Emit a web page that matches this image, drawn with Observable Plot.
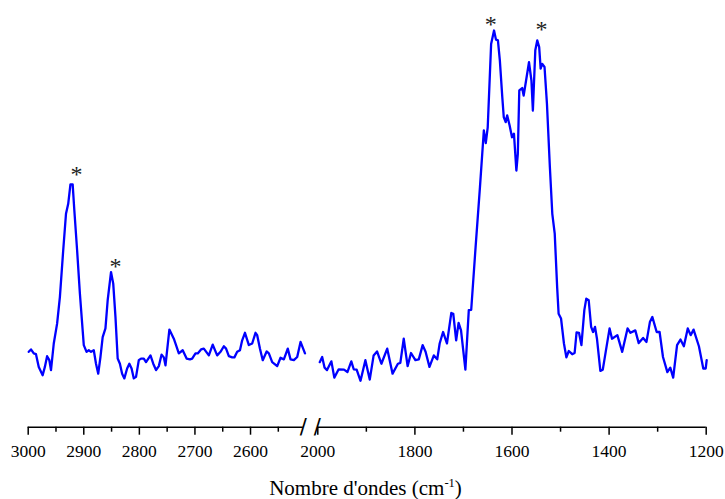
<!DOCTYPE html>
<html>
<head>
<meta charset="utf-8">
<script src="https://cdn.jsdelivr.net/npm/d3@7"></script>
<script src="https://cdn.jsdelivr.net/npm/@observablehq/plot@0.6"></script>
<style>
  html, body { margin: 0; padding: 0; background: #fff; }
  svg { display: block; }
  svg text.serif-t, svg .serif-t text { font-family: 'Liberation Serif', 'Times New Roman', Times, serif !important; }
</style>
</head>
<body>
<div id="chart"></div>
<script>
// ---- data: wavenumber (cm-1) and absorbance (arbitrary units) ----
const leftWn = [2999,2995,2990,2986,2981,2974,2970,2966,2962,2959,2954,2948,2943,2937,2932,2928,2924,2920,2917,2912,2907,2902,2900,2895,2891,2887,2882,2878,2874,2870,2866,2861,2857,2851,2847,2843,2839,2835,2831,2827,2822,2818,2814,2810,2806,2801,2797,2792,2788,2780,2775,2770,2765,2760,2756,2753,2746,2738,2734,2729,2722,2715,2709,2705,2699,2695,2689,2684,2675,2668,2660,2654,2648,2644,2639,2633,2629,2624,2619,2615,2610,2603,2597,2591,2588,2583,2578,2571,2567,2561,2552,2546,2540,2533,2528,2522,2516,2510,2502];
const leftAbs = [19.0,19.6,18.6,18.4,15.2,13.1,15.2,17.9,16.9,14.4,21.1,26.1,32.8,44.6,53.8,56.3,61.2,61.2,54.7,44.6,33.7,24.4,20.7,19.0,19.4,19.0,19.4,16.0,13.5,17.7,22.7,24.9,32.0,39.1,36.2,27.8,17.3,16.0,13.5,12.3,14.8,16.0,14.8,12.3,12.7,16.9,17.3,17.3,16.4,18.1,16.0,14.4,15.4,18.3,17.6,15.6,24.6,22.3,20.7,18.6,19.4,17.3,17.1,17.3,18.6,18.6,19.6,19.8,18.1,20.8,18.1,19.0,20.4,19.8,17.9,17.6,17.6,19.0,19.4,21.9,23.8,20.7,21.1,23.8,23.2,19.8,16.9,19.1,18.6,16.4,15.4,17.5,17.1,19.8,17.1,16.9,17.7,21.5,18.6];

const rightWn = [1996,1991,1986,1981,1972,1966,1957,1946,1939,1931,1926,1920,1912,1902,1893,1885,1878,1869,1857,1846,1835,1830,1823,1815,1808,1799,1792,1784,1778,1770,1761,1754,1749,1742,1734,1725,1721,1715,1710,1705,1696,1689,1684,1675,1666,1658,1654,1650,1643,1637,1633,1629,1625,1620,1617,1613,1610,1605,1600,1596,1591,1588,1585,1579,1576,1571,1565,1560,1557,1552,1548,1544,1541,1538,1533,1528,1522,1517,1512,1507,1504,1499,1493,1488,1483,1476,1471,1467,1462,1457,1451,1447,1442,1437,1433,1429,1425,1418,1413,1407,1399,1394,1383,1373,1362,1356,1346,1339,1330,1323,1316,1311,1302,1296,1289,1280,1274,1268,1260,1253,1246,1238,1232,1226,1215,1206,1201,1199];
const rightAbs = [16.4,17.7,15.0,14.4,16.6,12.5,14.6,14.5,13.9,16.6,14.6,14.5,11.7,16.9,12.0,18.1,19.1,16.0,19.8,13.5,16.0,16.2,22.3,15.4,18.7,16.9,17.1,20.7,19.0,15.2,18.1,17.1,21.1,24.0,21.1,28.8,28.6,21.9,26.3,24.4,14.5,29.5,29.6,45.4,60.5,74.8,71.6,75.6,96.6,100,97.7,97.5,92.4,83.2,78.2,76.9,78.6,76.1,73.1,74.0,64.7,68.9,84.9,85.5,83.6,87.4,92.0,87.4,79.8,95.0,97.5,95.8,90.4,91.6,90.8,81.5,65.6,53.8,48.8,35.3,28.6,27.4,21.1,17.6,19.2,18.4,18.7,23.9,23.8,20.7,29.5,32.4,32.0,25.3,24.0,25.3,22.3,14.2,14.5,19.0,24.9,22.3,23.2,19.0,24.9,23.8,24.4,21.2,22.5,21.5,26.5,27.8,24.0,24.0,17.7,13.9,15.0,12.5,20.7,22.1,20.4,24.9,23.2,24.6,20.4,14.8,14.8,16.9];

// peak markers (*)
const starWn = [2913, 2843, 1644, 1539];
const starAbs = [64.7, 41.6, 102.5, 101.3];

// broken axis: segments, ticks
const axisFrom = [3000, 2001];
const axisTo = [2505, 1200];
const breakWn = [2504, 2000];
const majorTicks = [3000, 2900, 2800, 2700, 2600, 2000, 1800, 1600, 1400, 1200];
const minorTicks = [2950, 2850, 2750, 2650, 2550, 1900, 1700, 1500, 1300];
const xDomain = [3000, 2500, 2000, 1200];
const xRange = [27.7, 305.6, 317.3, 705.7];

// ---- tables built from the arrays ----
const spectrum = [
  ...leftWn.map((w, i) => ({wn: w, abs: leftAbs[i], seg: "high"})),
  ...rightWn.map((w, i) => ({wn: w, abs: rightAbs[i], seg: "low"}))
];
const stars = starWn.map((w, i) => ({wn: w, abs: starAbs[i]}));
const axisSegs = axisFrom.map((f, i) => ({from: f, to: axisTo[i], base: 0}));
const breaks = breakWn.map(w => ({wn: w, base: 0}));

const serif = "'Liberation Serif', 'Times New Roman', Times, serif";

const plot = Plot.plot({
  width: 725,
  height: 499,
  marginLeft: 27.7,
  marginRight: 19.3,
  marginTop: 30,
  marginBottom: 72.3,
  style: {fontFamily: serif, fontSize: "17.5px", background: "#fff", color: "#000"},
  x: {type: "linear", domain: xDomain, range: xRange, label: null},
  y: {type: "linear", domain: [0, 100], axis: null},
  marks: [
    Plot.ruleY(axisSegs, {y: "base", x1: "from", x2: "to", stroke: "#000", strokeWidth: 1.6}),
    Plot.axisX(minorTicks, {anchor: "bottom", tickSize: 5, strokeWidth: 1.5, tickFormat: () => "", label: null}),
    Plot.axisX(majorTicks, {anchor: "bottom", tickSize: 8, tickPadding: 9.5, strokeWidth: 1.5,
      tickFormat: d => String(d), fontSize: 17.5, fill: "#000", label: null, className: "serif-t"}),
    Plot.text(breaks, {x: "wn", y: "base", text: () => "/", fontFamily: "DejaVu Sans", fontSize: 21, fill: "#000", dx: -0.5}),
    Plot.line(spectrum, {x: "wn", y: "abs", z: "seg", stroke: "#0000ff", strokeWidth: 2.3, strokeLinejoin: "round"}),
    Plot.text(stars, {x: "wn", y: "abs", text: () => "*", fontSize: 24, fill: "#222", dy: 4, className: "serif-t"})
  ]
});

const svg = d3.select(plot);
// make every numeric tick label serif (inline style wins)
svg.selectAll("text").filter(function() { return /^\d+$/.test(this.textContent) || this.textContent === "*"; })
  .style("font-family", serif)
  .classed("serif-t", true);

// axis title with superscript
const t = svg.append("text")
  .attr("x", 365.5)
  .attr("y", 494.5)
  .attr("text-anchor", "middle")
  .style("font-family", serif)
  .attr("font-size", 21)
  .attr("fill", "#000");
t.append("tspan").text("Nombre d'ondes (cm");
t.append("tspan").attr("dy", -8).attr("font-size", 12.5).text("-1");
t.append("tspan").attr("dy", 8).text(")");

document.getElementById("chart").appendChild(plot);
</script>
</body>
</html>
